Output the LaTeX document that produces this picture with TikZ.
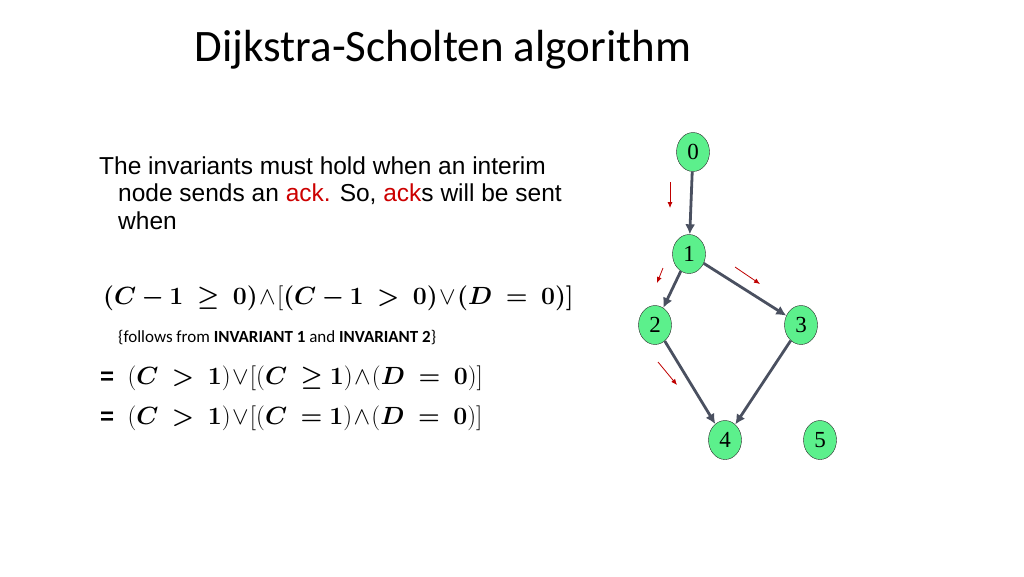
\documentclass[tikz,border=0pt]{standalone}
\usepackage{amsmath,amssymb,bm}
\usepackage{fontspec}
\setmainfont{Liberation Sans}
\newfontfamily\carl{Carlito}
\newfontfamily\serifnum{Liberation Serif}
\usetikzlibrary{shapes.geometric,arrows.meta}
\newcommand{\myand}{\mathbin{\!\wedge\!}}
\newcommand{\myor}{\mathbin{\!\vee\!}}
\begin{document}
\begin{tikzpicture}[x=1pt,y=-1pt,
  vert/.style={ellipse,draw=black!85,fill=mygreen,minimum width=33,minimum height=39,inner sep=0,font=\serifnum\fontsize{23}{25}\selectfont},
  edge/.style={draw=edgec,line width=2.8pt,-{Latex[length=10pt,width=10pt]}},
  ackarr/.style={draw=red!75!black,line width=0.8pt,-{Latex[length=6pt,width=5pt]}},
  txt/.style={anchor=west,inner sep=0,font=\fontsize{24.5}{28}\selectfont},
  mth/.style={anchor=west,inner sep=0,font=\fontsize{24}{27}\selectfont}]
\definecolor{mygreen}{HTML}{5CF08C}
\definecolor{edgec}{HTML}{4A5060}
\useasboundingbox (0,0) rectangle (1024,576);
\node[font=\carl\fontsize{45}{50}\selectfont] (title) at (443,50) {Dijkstra-Scholten algorithm};
\node[txt] (t1) at (99,166) {The invariants must hold when an interim};
\node[txt] (t2) at (118,194) {node sends an \textcolor{red!80!black}{ack.} So, \textcolor{red!80!black}{ack}s will be sent};
\node[txt] (t3) at (118,221) {when};
\node[mth] (m1) at (103,298) {$\bm{(C-1\ \geq\ 0)}\myand[\bm{(C-1\ >\ 0)}\myor\bm{(D\ =\ 0)]}$};
\node[anchor=west,inner sep=0,font=\carl\fontsize{17}{19}\selectfont] (f) at (118,338) {\{follows from \textbf{INVARIANT 1} and \textbf{INVARIANT 2}\}};
\node[mth] (m2) at (100,378) {\textbf{=}\ \ $(\bm{C\ >\ 1})\myor[(\bm{C\ \geq1})\myand(\bm{D\ =\ 0})]$};
\node[mth] (m3) at (100,418) {\textbf{=}\ \ $(\bm{C\ >\ 1})\myor[(\bm{C\ =1})\myand(\bm{D\ =\ 0})]$};
\node[vert] (n0) at (693,152) {0};
\node[vert] (n1) at (689,254) {1};
\node[vert] (n2) at (655,325) {2};
\node[vert] (n3) at (801,325) {3};
\node[vert] (n4) at (725,440) {4};
\node[vert] (n5) at (820,440) {5};
\draw[edge] (n0) -- (n1);
\draw[edge] (n1) -- (n2);
\draw[edge] (n1) -- (n3);
\draw[edge] (n2) -- (n4);
\draw[edge] (n3) -- (n4);
\coordinate (a1s) at (670,182); \coordinate (a1e) at (670,208);
\coordinate (a2s) at (663,268); \coordinate (a2e) at (657,283);
\coordinate (a3s) at (735,267); \coordinate (a3e) at (760,284);
\coordinate (a4s) at (658,362); \coordinate (a4e) at (677,385);
\draw[ackarr] (a1s) -- (a1e);
\draw[ackarr] (a2s) -- (a2e);
\draw[ackarr] (a3s) -- (a3e);
\draw[ackarr] (a4s) -- (a4e);
\end{tikzpicture}
\end{document}
